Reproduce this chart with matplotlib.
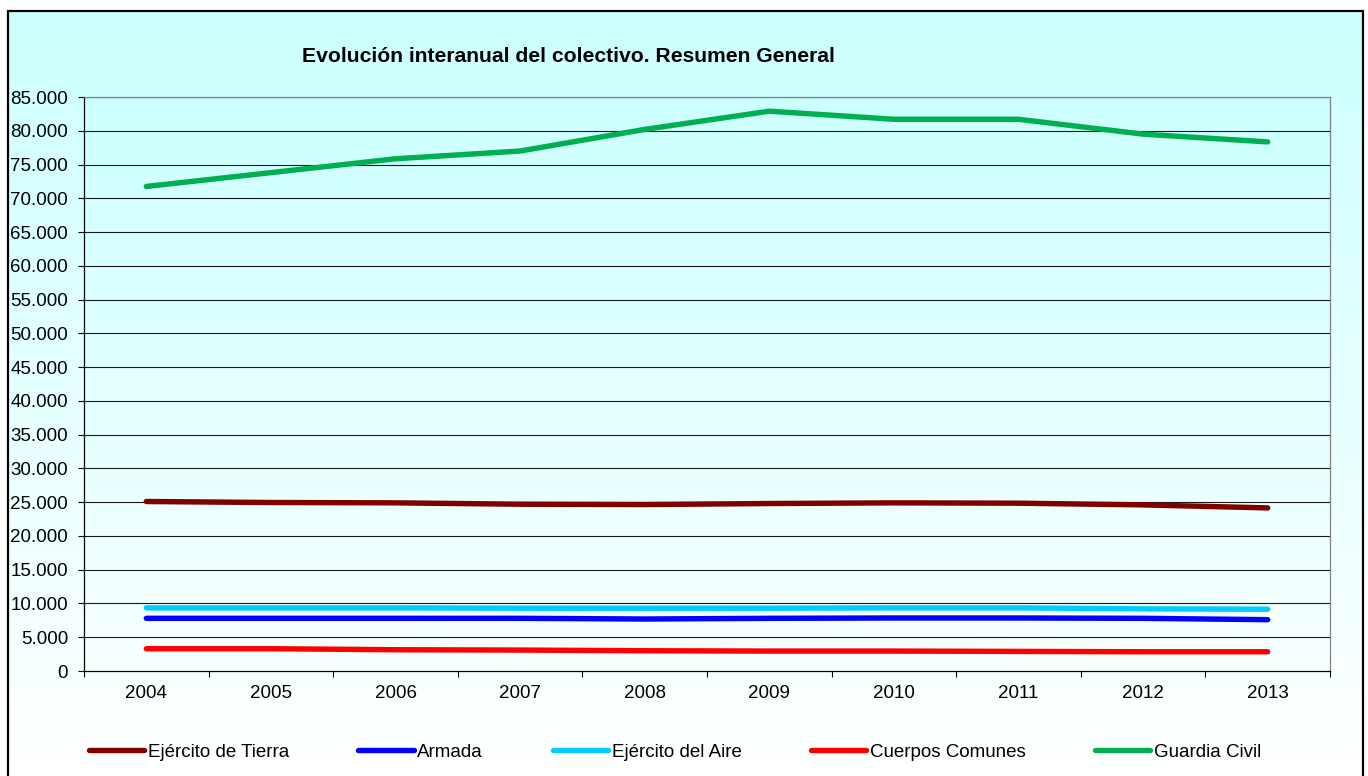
import numpy as np
import matplotlib
matplotlib.use("Agg")
import matplotlib.pyplot as plt
from matplotlib.patches import Rectangle
from matplotlib.ticker import FuncFormatter, FixedLocator

plt.rcParams['font.family'] = ['Liberation Sans', 'DejaVu Sans']

years = ['2004', '2005', '2006', '2007', '2008', '2009', '2010', '2011', '2012', '2013']
tierra = [25100, 24950, 24900, 24700, 24650, 24800, 24900, 24850, 24600, 24150]
armada = [7800, 7800, 7800, 7800, 7700, 7800, 7850, 7850, 7800, 7600]
aire = [9350, 9350, 9350, 9300, 9300, 9300, 9350, 9350, 9200, 9150]
comunes = [3300, 3300, 3150, 3100, 3000, 2950, 2950, 2900, 2850, 2850]
guardia = [71750, 73800, 75850, 77000, 80200, 82900, 81700, 81700, 79500, 78350]

series_names = ['Ejército de Tierra', 'Armada', 'Ejército del Aire', 'Cuerpos Comunes', 'Guardia Civil']
series_values = [tierra, armada, aire, comunes, guardia]
series_colors = ['#800000', '#0000FF', '#00CCFF', '#FF0000', '#00B050']

title = 'Evolución interanual del colectivo. Resumen General'

W, H = 1368, 776
fig = plt.figure(figsize=(W / 100, H / 100), dpi=100)
fig.patch.set_facecolor('white')

def fx(px):
    return px / W

def fy(py):
    return 1 - py / H

# chart area gradient background
bl, br, bt = 8, 1363, 11
bg = fig.add_axes([fx(bl), 0, fx(br - bl), 1 - bt / H], zorder=-10)
grad = np.linspace(0, 1, 256)[:, None]
c0 = np.array([0xCC, 0xFF, 0xFF]) / 255.0
c1 = np.array([1.0, 1.0, 1.0])
img = c0[None, None, :] * (1 - grad[:, :, None]) + c1[None, None, :] * grad[:, :, None]
bg.imshow(img, aspect='auto', extent=[0, 1, 0, 1], origin='upper')
bg.set_axis_off()

# outer border
fig.patches.append(Rectangle((fx(bl), -0.05), fx(br - bl), 1.05 - bt / H,
                             transform=fig.transFigure, fill=False,
                             edgecolor='black', linewidth=1.6, zorder=5))

# plot area
pl, pr, pt, pb = 84, 1330, 97, 671
ax = fig.add_axes([fx(pl), fy(pb), fx(pr - pl), (pb - pt) / H], zorder=1)
ax.set_xlim(-0.5, len(years) - 0.5)
ax.set_ylim(0, 85000)

# plot area gradient
pimg = c0[None, None, :] * (1 - grad[:, :, None]) + np.array([0xF8, 0xFF, 0xFF])[None, None, :] / 255.0 * grad[:, :, None]
ax.imshow(pimg, aspect='auto', extent=[-0.5, len(years) - 0.5, 0, 85000],
          origin='upper', zorder=0)

yticks = list(range(0, 85001, 5000))
for yv in yticks[1:]:
    ax.axhline(yv, color='#1a1a1a', linewidth=0.8, zorder=1)

x = np.arange(len(years))
for name, vals, col in zip(series_names, series_values, series_colors):
    ax.plot(x, vals, color=col, linewidth=3.9, label=name,
            solid_capstyle='round', solid_joinstyle='round', zorder=3)

def fmt(v, pos):
    return f"{int(v):,}".replace(',', '.')

ax.yaxis.set_major_locator(FixedLocator(yticks))
ax.yaxis.set_major_formatter(FuncFormatter(fmt))
ax.tick_params(axis='y', direction='out', length=4.5, width=0.8, pad=7,
               labelsize=13.5, colors='black')

ax.set_xticks(x)
ax.set_xticklabels(years)
ax.set_xticks(np.arange(-0.5, len(years), 1.0), minor=True)
ax.tick_params(axis='x', which='major', length=0, pad=10, labelsize=13.5)
ax.tick_params(axis='x', which='minor', direction='out', length=4.5, width=0.8)

for s in ['left', 'bottom']:
    ax.spines[s].set_color('black')
    ax.spines[s].set_linewidth(0.9)
for s in ['top', 'right']:
    ax.spines[s].set_color('#808080')
    ax.spines[s].set_linewidth(0.9)

fig.text(fx(568), fy(57), title, ha='center', va='center',
         fontsize=15.2, fontweight='bold')

handles, labels = ax.get_legend_handles_labels()
fig.legend(handles, labels, loc='center', bbox_to_anchor=(fx(675), fy(752)),
           ncol=5, frameon=False, fontsize=13.5, handlelength=2.95,
           handletextpad=0.2, columnspacing=3.7)

fig.savefig('out.png', dpi=100, facecolor=fig.get_facecolor())
